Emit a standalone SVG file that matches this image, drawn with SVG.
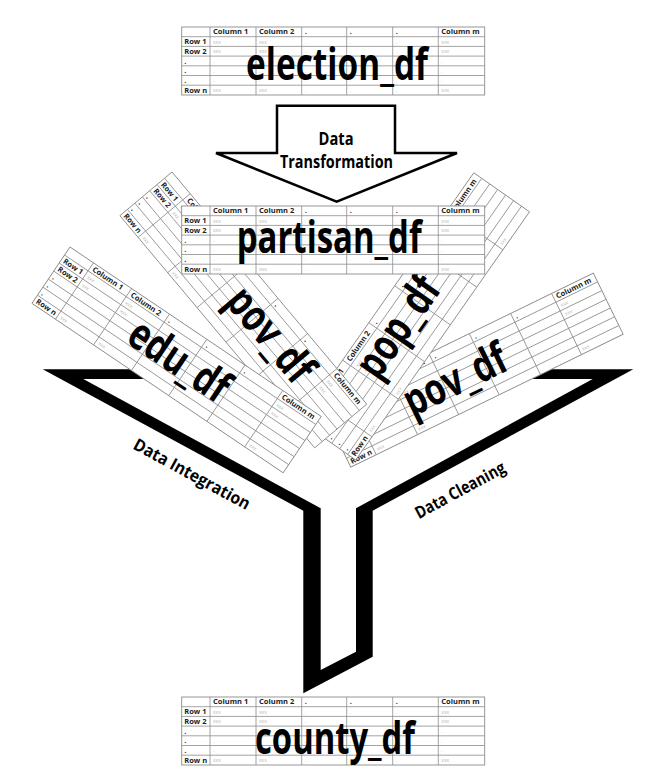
<svg xmlns="http://www.w3.org/2000/svg" xmlns:xlink="http://www.w3.org/1999/xlink" width="662" height="783" viewBox="0 0 662 783">
<style>
.tf{fill:#fff;stroke:#8c8c8c;stroke-width:0.9}
.gl{fill:none;stroke:#8c8c8c;stroke-width:0.8}
.hd{font-family:"Open Sans","Liberation Sans",sans-serif;font-weight:700;font-size:7.5px;fill:#222}
.cl{font-family:"Open Sans","Liberation Sans",sans-serif;font-size:5px;fill:#b4b4b4}
.big{font-family:"Open Sans","Liberation Sans",sans-serif;font-weight:700;font-size:44px;fill:#000}
.lbl{font-family:"Open Sans","Liberation Sans",sans-serif;font-weight:700;font-size:17px;fill:#000}
.funnel{fill:#000}
.arrow{fill:#fff;stroke:#000;stroke-width:2.5;stroke-linejoin:miter}
</style>
<defs>
<g id="tbl">
<rect class="tf" x="0" y="0" width="303" height="68"/>
<path class="gl" d="M0 9.7H303M0 19.4H303M0 29.1H303M0 38.8H303M0 48.5H303M0 58.2H303M28.3 0V68M74.3 0V68M120 0V68M165 0V68M211 0V68M256.6 0V68"/>
<text class="hd" y="7.4"><tspan x="31.3">Column 1</tspan><tspan x="77.3">Column 2</tspan><tspan x="123">.</tspan><tspan x="168">.</tspan><tspan x="214">.</tspan><tspan x="259.6">Column m</tspan></text>
<text class="hd"><tspan x="2.5" y="17.1">Row 1</tspan><tspan x="2.5" y="26.8">Row 2</tspan><tspan x="2.5" y="36.5">.</tspan><tspan x="2.5" y="46.2">.</tspan><tspan x="2.5" y="55.9">.</tspan><tspan x="2.5" y="65.7">Row n</tspan></text>
<text class="cl" y="16.6"><tspan x="31.3">xxx</tspan><tspan x="77.3">xxx</tspan><tspan x="123">.</tspan><tspan x="168">.</tspan><tspan x="214">.</tspan><tspan x="259.6">xxx</tspan></text>
<text class="cl" y="26.3"><tspan x="31.3">xxx</tspan><tspan x="77.3">xxx</tspan><tspan x="123">.</tspan><tspan x="168">.</tspan><tspan x="214">.</tspan><tspan x="259.6">xxx</tspan></text>
<text class="cl" y="36"><tspan x="31.3">.</tspan><tspan x="77.3">.</tspan><tspan x="123">.</tspan><tspan x="168">.</tspan><tspan x="214">.</tspan><tspan x="259.6">.</tspan></text>
<text class="cl" y="45.7"><tspan x="31.3">.</tspan><tspan x="77.3">.</tspan><tspan x="123">.</tspan><tspan x="168">.</tspan><tspan x="214">.</tspan><tspan x="259.6">.</tspan></text>
<text class="cl" y="55.4"><tspan x="31.3">.</tspan><tspan x="77.3">.</tspan><tspan x="123">.</tspan><tspan x="168">.</tspan><tspan x="214">.</tspan><tspan x="259.6">.</tspan></text>
<text class="cl" y="65.2"><tspan x="31.3">xxx</tspan><tspan x="77.3">xxx</tspan><tspan x="123">.</tspan><tspan x="168">.</tspan><tspan x="214">.</tspan><tspan x="259.6">xxx</tspan></text>
</g>
</defs>

<g id="funnel">
<polygon class="funnel" points="42.7,369.3 170,369.3 170,379 83.3,379 320.7,508.3 320.7,670 356,651.7 356,508.3 592.7,379 500,379 500,369.3 633.3,369.3 372.7,510.7 372.7,656.7 303.3,693.3 303.3,510.7"/>
</g>

<g id="election_df" transform="translate(181.7,27)">
<use href="#tbl" xlink:href="#tbl"/>
<text class="big" x="64.3" y="53" textLength="182" lengthAdjust="spacingAndGlyphs">election_df</text>
</g>

<g id="pov_df_right" transform="translate(321,406) rotate(-26)">
<use href="#tbl" xlink:href="#tbl"/>
<text class="big" x="77" y="50" textLength="110" lengthAdjust="spacingAndGlyphs">pov_df</text>
</g>

<g id="pop_df" transform="translate(300,421) rotate(-55)">
<use href="#tbl" xlink:href="#tbl"/>
<text class="big" x="77" y="41" textLength="113" lengthAdjust="spacingAndGlyphs">pop_df</text>
</g>

<g id="pov_df_left" transform="translate(172,172) rotate(50)">
<use href="#tbl" xlink:href="#tbl"/>
<text class="big" x="133" y="44" textLength="110" lengthAdjust="spacingAndGlyphs">pov_df</text>
</g>

<g id="edu_df" transform="translate(70,247) rotate(34)">
<use href="#tbl" xlink:href="#tbl"/>
<text class="big" x="98" y="48" textLength="112" lengthAdjust="spacingAndGlyphs">edu_df</text>
</g>

<g id="partisan_df" transform="translate(181.7,206)">
<use href="#tbl" xlink:href="#tbl"/>
<text class="big" x="55" y="46.7" textLength="185" lengthAdjust="spacingAndGlyphs">partisan_df</text>
</g>

<g id="county_df" transform="translate(181.7,697)">
<use href="#tbl" xlink:href="#tbl"/>
<text class="big" x="73.3" y="57" textLength="160" lengthAdjust="spacingAndGlyphs">county_df</text>
</g>

<g id="connectors">
<g id="data_transformation">
<polygon class="arrow" points="277,105.7 395,105.7 395,153 457,153 336.7,201.7 216,153 277,153"/>
<text class="lbl" x="336" y="145" text-anchor="middle" textLength="35" lengthAdjust="spacingAndGlyphs">Data</text>
<text class="lbl" x="336.5" y="167.5" text-anchor="middle" textLength="113" lengthAdjust="spacingAndGlyphs">Transformation</text>
</g>
<text class="lbl" transform="translate(192,474) rotate(28.5)" x="0" y="6" text-anchor="middle" textLength="130" lengthAdjust="spacingAndGlyphs">Data Integration</text>
<text class="lbl" transform="translate(460,490) rotate(-28.5)" x="0" y="6" text-anchor="middle" textLength="100" lengthAdjust="spacingAndGlyphs">Data Cleaning</text>
</g>
</svg>
